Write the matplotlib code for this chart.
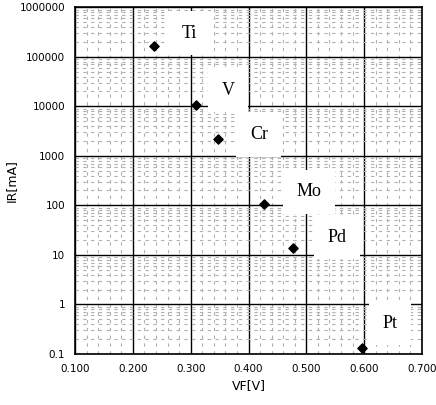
import matplotlib
matplotlib.use("Agg")
import matplotlib.pyplot as plt
from matplotlib.ticker import MultipleLocator, FixedLocator, LogLocator, NullFormatter

# forward voltage vs reverse current for barrier metals
metals = ["Ti", "V", "Cr", "Mo", "Pd", "Pt"]
vf = [0.237, 0.309, 0.348, 0.426, 0.477, 0.596]
ir = [166000, 10600, 2200, 105, 14, 0.13]

# where each metal name sits (data coords)
label_x = [0.298, 0.365, 0.418, 0.505, 0.553, 0.645]
label_y = [300000, 21000, 2700, 190, 23, 0.42]

yticks = [0.1, 1, 10, 100, 1000, 10000, 100000, 1000000]
ytick_labels = ["0.1", "1", "10", "100", "1000", "10000", "100000", "1000000"]
xticks = [0.1, 0.2, 0.3, 0.4, 0.5, 0.6, 0.7]
xtick_labels = ["0.100", "0.200", "0.300", "0.400", "0.500", "0.600", "0.700"]


def main():
    fig = plt.figure(figsize=(4.36, 4.05), dpi=100)
    ax = fig.add_axes([0.172, 0.126, 0.796, 0.856])

    ax.set_yscale("log")
    ax.set_xlim(0.1, 0.7)
    ax.set_ylim(0.1, 1000000)

    ax.xaxis.set_major_locator(FixedLocator(xticks))
    ax.set_xticklabels(xtick_labels)
    ax.xaxis.set_minor_locator(MultipleLocator(0.02))
    ax.yaxis.set_major_locator(FixedLocator(yticks))
    ax.set_yticklabels(ytick_labels)
    ax.yaxis.set_minor_locator(LogLocator(base=10, subs=range(2, 10), numticks=20))
    ax.yaxis.set_minor_formatter(NullFormatter())

    ax.grid(which="minor", color="#b0b0b0", linestyle=(0, (3, 4)), linewidth=0.8)
    ax.grid(which="major", color="black", linestyle="-", linewidth=1.0)
    ax.set_axisbelow(True)
    ax.tick_params(which="both", length=0, labelsize=7.5, pad=7)
    for s in ax.spines.values():
        s.set_linewidth(1.2)
        s.set_color("black")

    ax.scatter(vf, ir, marker="D", s=22, color="black", zorder=5)

    for name, x, y in zip(metals, label_x, label_y):
        ax.text(x, y, name, fontsize=13, family="Liberation Serif",
                ha="center", va="center", zorder=4,
                bbox=dict(boxstyle="square,pad=0.75", fc="white", ec="none"))

    ax.set_xlabel("VF[V]", fontsize=9)
    ax.set_ylabel("IR[mA]", fontsize=9)
    ax.yaxis.set_label_coords(-0.165, 0.5)

    fig.savefig("out.png", dpi=100)


if __name__ == "__main__":
    main()
